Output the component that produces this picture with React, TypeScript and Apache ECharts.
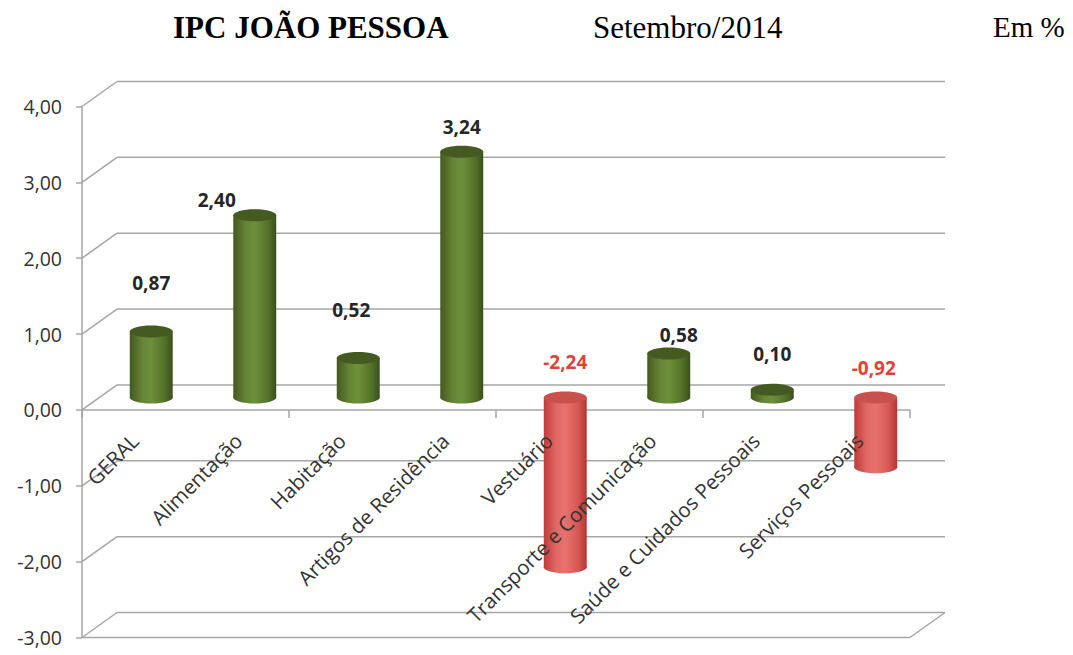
import React, { useEffect, useRef } from "react";
import * as echarts from "echarts";

const categories = [
  "GERAL",
  "Alimentação",
  "Habitação",
  "Artigos de Residência",
  "Vestuário",
  "Transporte e Comunicação",
  "Saúde e Cuidados Pessoais",
  "Serviços Pessoais",
];
const values = [0.87, 2.4, 0.52, 3.24, -2.24, 0.58, 0.1, -0.92];
const yMin = -3;
const yMax = 4;
const yStep = 1;
const yTickValues = [-3, -2, -1, 0, 1, 2, 3, 4];

// layout only: label offsets (px) from the upper end of each cylinder
const labelShift = [
  [0, -48],
  [-38, -15],
  [-7, -48],
  [0, -25],
  [0, -35],
  [10, -18],
  [0, -36],
  [-2, -29],
];

const DEPTH_X = 35;
const DEPTH_Y = -25;
const GRID_COLOR = "#a6a6a6";
const FONT = "Open Sans";
const CAT_LABEL_MARGIN = 27;

const fmt = (v: number) => v.toFixed(2).replace(".", ",");

export default function App() {
  const ref = useRef<HTMLDivElement>(null);

  useEffect(() => {
    document.body.style.margin = "0";
    const chart = echarts.init(ref.current!, undefined, { renderer: "svg" });

    const greenBody = () =>
      new echarts.graphic.LinearGradient(0, 0, 1, 0, [
        { offset: 0, color: "#44591f" },
        { offset: 0.3, color: "#668536" },
        { offset: 0.5, color: "#6e8f3a" },
        { offset: 0.8, color: "#557229" },
        { offset: 1, color: "#3c4f1b" },
      ]);
    const redBody = () =>
      new echarts.graphic.LinearGradient(0, 0, 1, 0, [
        { offset: 0, color: "#c03b38" },
        { offset: 0.3, color: "#e26a66" },
        { offset: 0.5, color: "#e8726e" },
        { offset: 0.8, color: "#d65753" },
        { offset: 1, color: "#b43532" },
      ]);

    const option: any = {
      animation: false,
      grid: {
        left: 82,
        top: 106.5,
        width: 828,
        height: 531,
        containLabel: false,
        outerBoundsMode: "none",
      },
      xAxis: {
        type: "category",
        data: categories,
        boundaryGap: true,
        axisLine: { show: true, onZero: true, lineStyle: { color: GRID_COLOR, width: 1.5 } },
        axisTick: { show: true, length: 8, lineStyle: { color: GRID_COLOR, width: 1.5 } },
        axisLabel: { show: false },
        splitLine: { show: false },
      },
      yAxis: {
        type: "value",
        min: yMin,
        max: yMax,
        interval: yStep,
        axisLine: { show: true, lineStyle: { color: GRID_COLOR, width: 1.5 } },
        axisTick: { show: true, length: 6, lineStyle: { color: GRID_COLOR, width: 1.5 } },
        axisLabel: {
          formatter: (v: number) => fmt(v),
          fontSize: 19.5,
          fontFamily: FONT,
          color: "#333333",
          margin: 20,
        },
        splitLine: { show: false },
      },
      graphic: [
        {
          type: "text",
          left: 173,
          top: 12,
          style: {
            text: "IPC JOÃO PESSOA",
            fontSize: 31,
            fontWeight: "bold",
            fontFamily: "Liberation Serif",
            fill: "#000",
          },
        },
        {
          type: "text",
          left: 593,
          top: 12,
          style: {
            text: "Setembro/2014",
            fontSize: 31,
            fontFamily: "Liberation Serif",
            fill: "#000",
          },
        },
        {
          type: "text",
          left: 993,
          top: 12,
          style: {
            text: "Em %",
            fontSize: 29,
            fontFamily: "Liberation Serif",
            fill: "#000",
          },
        },
      ],
      series: [
        {
          type: "custom",
          name: "frame",
          silent: true,
          data: yTickValues.map((v) => [0, v]),
          encode: { x: 0, y: 1 },
          renderItem: (params: any, api: any) => {
            const v = api.value(1);
            const p = api.coord([0, v]);
            const band = api.size([1, 0])[0];
            const left = p[0] - band / 2;
            const right = left + band * categories.length;
            const y = p[1];
            const ls = { stroke: GRID_COLOR, lineWidth: 1.5 };
            const children: any[] = [
              { type: "line", shape: { x1: left, y1: y, x2: left + DEPTH_X, y2: y + DEPTH_Y }, style: ls },
              {
                type: "line",
                shape: { x1: left + DEPTH_X, y1: y + DEPTH_Y, x2: right + DEPTH_X, y2: y + DEPTH_Y },
                style: ls,
              },
            ];
            if (v === yMin) {
              children.push(
                { type: "line", shape: { x1: left, y1: y, x2: right, y2: y }, style: ls },
                { type: "line", shape: { x1: right, y1: y, x2: right + DEPTH_X, y2: y + DEPTH_Y }, style: ls }
              );
            }
            return { type: "group", children };
          },
        },
        {
          type: "custom",
          name: "IPC",
          data: values.map((v, i) => [i, v]),
          encode: { x: 0, y: 1 },
          renderItem: (params: any, api: any) => {
            const i = api.value(0);
            const v = api.value(1);
            const p0 = api.coord([i, 0]);
            const p1 = api.coord([i, v]);
            const band = api.size([1, 0])[0];
            const w = band * 0.415;
            const cx = p0[0] + DEPTH_X / 2;
            const yBase = p0[1] + DEPTH_Y / 2;
            const yVal = p1[1] + DEPTH_Y / 2;
            const upper = Math.min(yBase, yVal);
            const lower = Math.max(yBase, yVal);
            const rx = w / 2;
            const ry = 6;
            const neg = v < 0;
            const body = neg ? redBody() : greenBody();
            const cap = neg ? "#c9514d" : "#445a21";
            const sh = labelShift[i] || [0, -30];
            return {
              type: "group",
              children: [
                { type: "ellipse", shape: { cx, cy: lower, rx, ry }, style: { fill: body } },
                { type: "rect", shape: { x: cx - rx, y: upper, width: w, height: lower - upper }, style: { fill: body } },
                { type: "ellipse", shape: { cx, cy: upper, rx, ry }, style: { fill: cap } },
                {
                  type: "text",
                  style: {
                    text: fmt(v),
                    x: cx + sh[0],
                    y: upper + sh[1],
                    align: "center",
                    verticalAlign: "middle",
                    fontSize: 19,
                    fontWeight: "bold",
                    fontFamily: FONT,
                    fill: neg ? "#e2403b" : "#262626",
                  },
                },
              ],
            };
          },
        },
        {
          type: "custom",
          name: "categoryLabels",
          silent: true,
          data: categories.map((c, i) => [i, 0]),
          encode: { x: 0, y: 1 },
          renderItem: (params: any, api: any) => {
            const i = api.value(0);
            const p = api.coord([i, 0]);
            return {
              type: "text",
              x: p[0] + 1,
              y: p[1] + CAT_LABEL_MARGIN,
              rotation: Math.PI / 4,
              style: {
                text: categories[i],
                align: "right",
                verticalAlign: "middle",
                fontSize: 20.5,
                fontFamily: FONT,
                fill: "#333333",
              },
            };
          },
        },
      ],
    };

    chart.setOption(option);
    return () => chart.dispose();
  }, []);

  return (
    <div
      ref={ref}
      style={{ position: "absolute", left: 0, top: 0, width: 1073, height: 655, background: "#fff" }}
    />
  );
}
